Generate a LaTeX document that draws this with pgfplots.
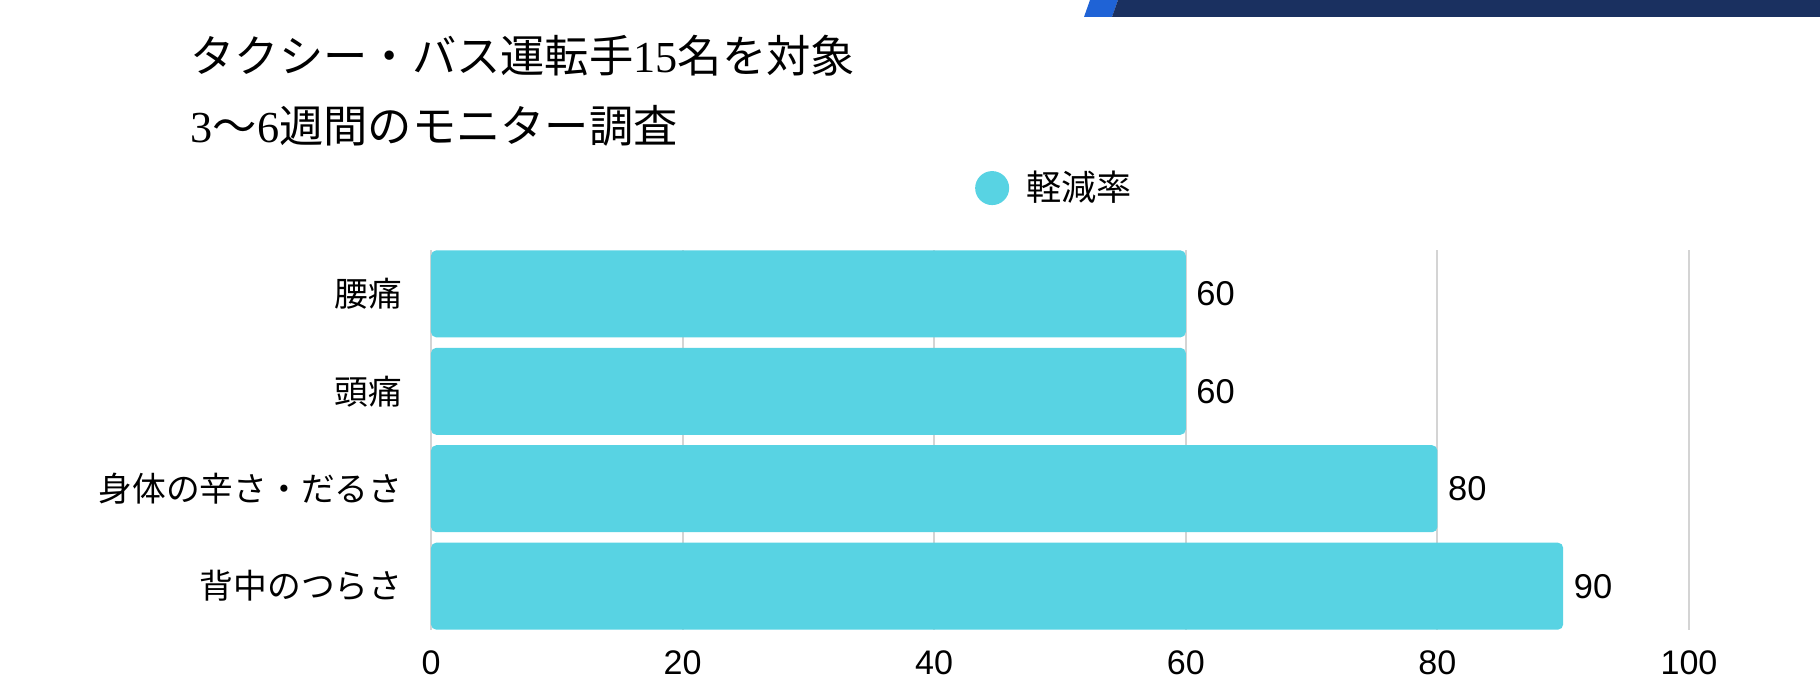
\documentclass[border=0pt]{standalone}
\usepackage{fontspec}
\setmainfont{Liberation Sans}
\newfontfamily\cjk{Noto Sans CJK JP}
\newfontfamily\tnum{Liberation Serif}
\usepackage{pgfplots}
\pgfplotsset{compat=1.18}

\definecolor{barcol}{HTML}{58D3E3}
\definecolor{gridcol}{HTML}{D4D4D4}
\definecolor{navyband}{HTML}{1A3060}
\definecolor{blueband}{HTML}{1F63D6}

\begin{document}
\begin{tikzpicture}
  % top-right band
  \fill[blueband] (10.84,6.78) -- (10.90,6.95) -- (11.18,6.95) -- (11.12,6.78) -- cycle;
  \fill[navyband] (11.12,6.78) -- (11.18,6.95) -- (18.2,6.95) -- (18.2,6.78) -- cycle;

  % title
  \node[anchor=west, inner sep=0pt] at (1.90,6.39)
    {\cjk\fontsize{12.6}{15}\selectfont タクシー・バス運転手{\tnum 15}名を対象};
  \node[anchor=west, inner sep=0pt] at (1.90,5.69)
    {\cjk\fontsize{12.6}{15}\selectfont {\tnum 3}〜{\tnum 6}週間のモニター調査};

  \begin{axis}[
    at={(4.31cm,0.65cm)}, anchor=south west,
    width=12.58cm, height=3.80cm, scale only axis,
    xmin=0, xmax=100,
    ymin=-0.45, ymax=3.45, y dir=reverse,
    xtick={0,20,40,60,80,100},
    ytick={0,1,2,3},
    yticklabels={腰痛, 頭痛, 身体の辛さ・だるさ, 背中のつらさ},
    axis line style={draw=none},
    major tick length=0pt,
    xmajorgrids, grid style={gridcol, line width=0.6pt},
    /pgf/number format/assume math mode=true,
    xticklabel style={anchor=north, inner sep=0pt, yshift=-0.2cm,
      font=\fontsize{9.7}{12}\selectfont},
    yticklabel style={anchor=east, inner sep=0pt, xshift=-0.28cm,
      font=\cjk\fontsize{9.6}{12}\selectfont},
    xbar, bar width=0.87cm, bar shift=0pt,
    nodes near coords,
    every node near coord/.append style={anchor=west, inner sep=0pt,
      xshift=0.1cm, font=\fontsize{9.8}{12}\selectfont, black},
    legend style={draw=none, fill=none, at={(0.432,1.163)}, anchor=west,
      inner sep=0pt, font=\cjk\fontsize{10}{12}\selectfont},
    legend image code/.code={\fill[barcol] (0.17cm,0cm) circle[radius=0.17cm];},
  ]
    \addplot[fill=barcol, draw=none, rounded corners=1.5pt]
      coordinates {(60,0) (60,1) (80,2) (90,3)};
    \addlegendentry{\hspace{0.1cm}軽減率}
  \end{axis}

  \pgfresetboundingbox
  \useasboundingbox (0,0) rectangle (18.2,6.95);
\end{tikzpicture}
\end{document}
